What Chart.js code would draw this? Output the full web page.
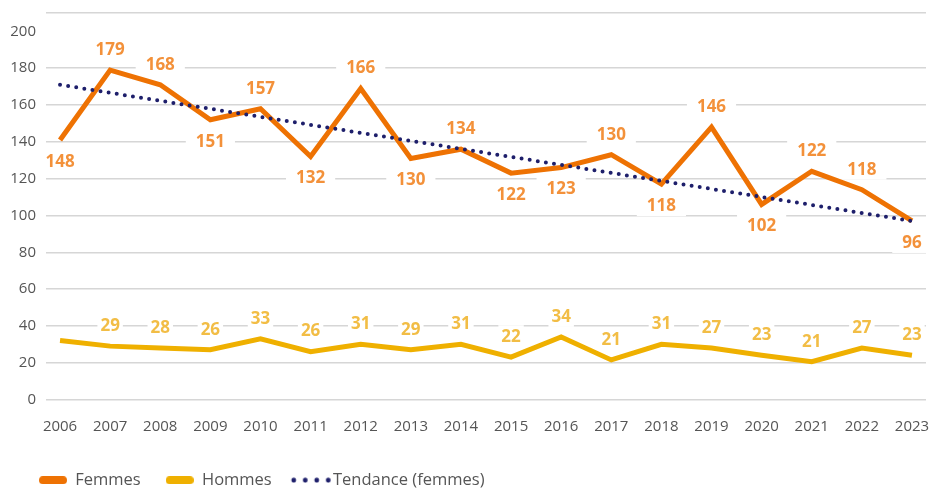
<!DOCTYPE html>
<html lang="fr">
<head>
<meta charset="UTF-8">
<title>Femmes / Hommes 2006-2023</title>
<script src="https://cdn.jsdelivr.net/npm/chart.js"></script>
<style>
  body { margin: 0; background: #fff; }
  #wrap { width: 930px; height: 489px; position: relative; }
</style>
</head>
<body>
<div id="wrap"><canvas id="chart"></canvas></div>
<script>
// data
const years = [2006, 2007, 2008, 2009, 2010, 2011, 2012, 2013, 2014, 2015, 2016, 2017, 2018, 2019, 2020, 2021, 2022, 2023];
const femmes = [141, 179, 171, 152, 158, 132, 169, 131, 136, 123, 126, 133, 117, 148, 106, 124, 114, 97];
const femmesLabels = [148, 179, 168, 151, 157, 132, 166, 130, 134, 122, 123, 130, 118, 146, 102, 122, 118, 96];
const femmesLabelSide = ['below', 'above', 'above', 'below', 'above', 'below', 'above', 'below', 'above',
                         'below', 'below', 'above', 'below', 'above', 'below', 'above', 'above', 'below'];
const hommes = [32, 29, 28, 27, 33, 26, 30, 27, 30, 23, 34, 21.5, 30, 28, 24, 20.5, 28, 24];
const hommesLabels = [null, 29, 28, 26, 33, 26, 31, 29, 31, 22, 34, 21, 31, 27, 23, 21, 27, 23];
const tendanceYears = [2006, 2023];
const tendance = [171, 97];
const yTicks = [0, 20, 40, 60, 80, 100, 120, 140, 160, 180, 200];

const ORANGE = '#EE7203';
const ORANGE_TXT = '#F3913A';
const YELLOW = '#EFB000';
const YELLOW_TXT = '#F2BD45';
const NAVY = '#1E1F6B';
const GREY_TXT = '#555555';
const FONT = '"Open Sans", "DejaVu Sans", sans-serif';

function pill(color) {
    const c = document.createElement('canvas');
    c.width = 28; c.height = 8;
    const g = c.getContext('2d');
    g.fillStyle = color;
    g.beginPath();
    g.roundRect(0, 0, 28, 8, 4);
    g.fill();
    return c;
}
function dots(color) {
    const c = document.createElement('canvas');
    c.width = 42; c.height = 6;
    const g = c.getContext('2d');
    g.fillStyle = color;
    for (let i = 0; i < 4; i++) {
        g.beginPath();
        g.arc(4 + i * 11.5, 3, 2.4, 0, Math.PI * 2);
        g.fill();
    }
    return c;
}

// labels with a white box that cuts the gridlines
function drawLabels(chart, boxesOnly) {
    const ctx = chart.ctx;
    ctx.save();
    ctx.font = 'bold 17px ' + FONT;
    ctx.textAlign = 'center';
    ctx.textBaseline = 'middle';
    const sets = [
        { meta: chart.getDatasetMeta(0), texts: femmesLabels, color: ORANGE_TXT, pad: 10, side: i => femmesLabelSide[i] },
        { meta: chart.getDatasetMeta(1), texts: hommesLabels, color: YELLOW_TXT, pad: 3, side: () => 'above' }
    ];
    sets.forEach(s => {
        s.meta.data.forEach((pt, i) => {
            const t = s.texts[i];
            if (t === null || t === undefined) return;
            const y = pt.y + (s.side(i) === 'above' ? -21 : 21);
            const w = ctx.measureText(String(t)).width;
            if (boxesOnly) {
                ctx.fillStyle = '#ffffff';
                ctx.fillRect(pt.x - w / 2 - s.pad, y - 11, w + s.pad * 2, 22);
            } else {
                ctx.fillStyle = s.color;
                ctx.fillText(String(t), pt.x, y + 1);
            }
        });
    });
    ctx.restore();
}

const labelPlugin = {
    id: 'valueLabels',
    beforeDatasetsDraw(chart) { drawLabels(chart, true); },
    afterDatasetsDraw(chart) { drawLabels(chart, false); }
};

const legendShift = {
    id: 'legendShift',
    afterLayout(chart) {
        const lg = chart.legend;
        const P = lg.options.labels.padding;
        const d = 480 - (lg.top + P + 8);
        lg.top += d; lg.bottom += d;
        lg.left += 14; lg.right += 14;
    }
};

const ctx = document.getElementById('chart').getContext('2d');
new Chart(ctx, {
    type: 'line',
    data: {
        datasets: [
            {
                label: 'Femmes',
                data: years.map((y, i) => ({ x: y, y: femmes[i] })),
                borderColor: ORANGE,
                backgroundColor: ORANGE,
                borderWidth: 5,
                borderJoinStyle: 'miter',
                pointRadius: 0,
                tension: 0,
                order: 1
            },
            {
                label: 'Hommes',
                data: years.map((y, i) => ({ x: y, y: hommes[i] })),
                borderColor: YELLOW,
                backgroundColor: YELLOW,
                borderWidth: 5,
                borderJoinStyle: 'miter',
                pointRadius: 0,
                tension: 0,
                order: 2
            },
            {
                label: 'Tendance (femmes)',
                data: tendanceYears.map((y, i) => ({ x: y, y: tendance[i] })),
                borderColor: NAVY,
                backgroundColor: NAVY,
                borderWidth: 4,
                borderDash: [0, 8.2],
                borderCapStyle: 'round',
                pointRadius: 0,
                order: 0
            }
        ]
    },
    options: {
        responsive: true,
        maintainAspectRatio: false,
        animation: false,
        layout: { padding: { top: 13, right: 4, left: 0, bottom: 0 } },
        plugins: {
            tooltip: { enabled: false },
            legend: {
                position: 'bottom',
                align: 'start',
                labels: {
                    usePointStyle: true,
                    pointStyleWidth: 28,
                    boxHeight: 8,
                    padding: 25,
                    color: GREY_TXT,
                    font: { family: FONT, size: 16.5 },
                    generateLabels: () => [
                        { text: 'Femmes', pointStyle: pill(ORANGE), fillStyle: ORANGE, strokeStyle: ORANGE, lineWidth: 0, fontColor: GREY_TXT, datasetIndex: 0, hidden: false },
                        { text: 'Hommes', pointStyle: pill(YELLOW), fillStyle: YELLOW, strokeStyle: YELLOW, lineWidth: 0, fontColor: GREY_TXT, datasetIndex: 1, hidden: false },
                        { text: 'Tendance (femmes)', pointStyle: dots(NAVY), fillStyle: NAVY, strokeStyle: NAVY, lineWidth: 0, fontColor: GREY_TXT, datasetIndex: 2, hidden: false }
                    ]
                }
            }
        },
        scales: {
            x: {
                type: 'linear',
                min: 2005.72,
                max: 2023.28,
                grid: { display: false, drawTicks: false },
                border: { display: false },
                ticks: {
                    stepSize: 1,
                    includeBounds: false,
                    autoSkip: false,
                    maxRotation: 0,
                    padding: 18,
                    color: GREY_TXT,
                    font: { family: FONT, size: 15 },
                    callback: v => String(v)
                },
                afterFit: s => {
                    s.paddingLeft = 0; s.paddingRight = 0;
                    s.height = s.chart.height - 399.5 - s.chart.legend.height;
                }
            },
            y: {
                min: 0,
                max: 210,
                afterBuildTicks: s => { s.ticks = yTicks.concat([210]).map(v => ({ value: v })); },
                afterFit: s => { s.width = 46; s.paddingTop = 0; s.paddingBottom = 0; },
                grid: {
                    drawTicks: false,
                    lineWidth: 1.5,
                    color: c => (c.tick && c.tick.value === 200) ? 'rgba(0,0,0,0)' : '#d6d6d6'
                },
                border: { display: false },
                ticks: {
                    padding: 10,
                    color: GREY_TXT,
                    font: { family: FONT, size: 15 },
                    callback: v => v === 210 ? '' : v
                }
            }
        }
    },
    plugins: [labelPlugin, legendShift]
});
</script>
</body>
</html>
